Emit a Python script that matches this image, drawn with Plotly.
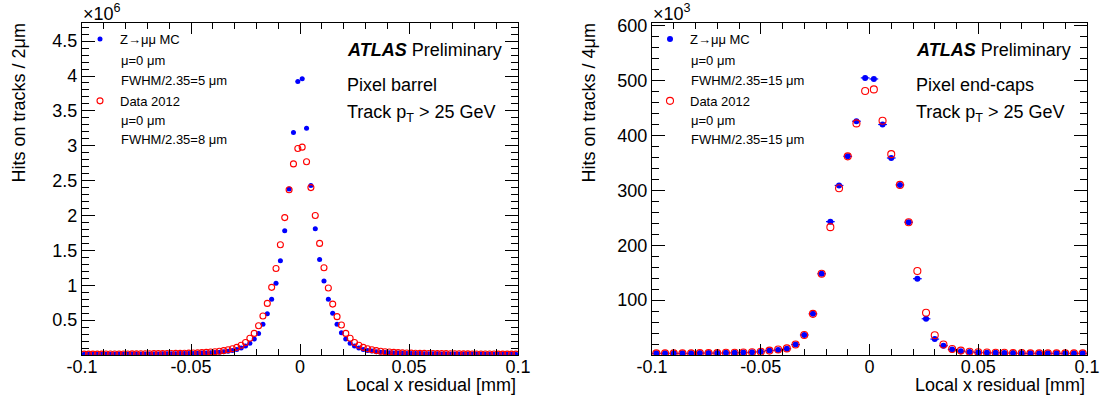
import plotly.graph_objects as go

# ---------------- data ----------------
# Pixel barrel: 2 um bins from -0.1 to 0.1 mm (bin centres)
barrel_x = [round(-0.099 + 0.002 * i, 3) for i in range(100)]
# values in units of 1e6 hits
barrel_mc = [
    0.011, 0.011, 0.011, 0.011, 0.012, 0.012, 0.012, 0.012, 0.013, 0.013,
    0.013, 0.014, 0.014, 0.014, 0.015, 0.015, 0.016, 0.016, 0.017, 0.017,
    0.018, 0.019, 0.020, 0.021, 0.022, 0.023, 0.025, 0.027, 0.029, 0.032,
    0.036, 0.041, 0.047, 0.055, 0.065, 0.08, 0.10, 0.13, 0.17, 0.23,
    0.31, 0.44, 0.59, 0.80, 1.03, 1.35, 1.78, 2.38, 3.19, 3.92,
    3.96, 3.25, 2.43, 1.81, 1.37, 1.06, 0.80, 0.60, 0.44, 0.32,
    0.23, 0.17, 0.13, 0.10, 0.08, 0.066, 0.056, 0.048, 0.041, 0.036,
    0.032, 0.029, 0.027, 0.025, 0.023, 0.022, 0.021, 0.020, 0.019, 0.018,
    0.017, 0.017, 0.016, 0.016, 0.015, 0.015, 0.014, 0.014, 0.014, 0.013,
    0.013, 0.013, 0.012, 0.012, 0.012, 0.012, 0.011, 0.011, 0.011, 0.011,
]
barrel_data = [
    0.012, 0.013, 0.013, 0.013, 0.013, 0.014, 0.014, 0.014, 0.015, 0.015,
    0.015, 0.016, 0.016, 0.017, 0.017, 0.018, 0.019, 0.019, 0.020, 0.021,
    0.022, 0.023, 0.024, 0.025, 0.027, 0.029, 0.031, 0.034, 0.038, 0.042,
    0.047, 0.054, 0.063, 0.075, 0.090, 0.11, 0.14, 0.18, 0.24, 0.31,
    0.42, 0.56, 0.74, 0.97, 1.24, 1.58, 1.97, 2.37, 2.74, 2.96,
    2.98, 2.77, 2.40, 2.00, 1.60, 1.25, 0.96, 0.73, 0.55, 0.43,
    0.31, 0.24, 0.18, 0.14, 0.11, 0.090, 0.075, 0.063, 0.054, 0.047,
    0.042, 0.038, 0.034, 0.031, 0.029, 0.027, 0.025, 0.024, 0.023, 0.022,
    0.021, 0.020, 0.019, 0.019, 0.018, 0.017, 0.017, 0.016, 0.016, 0.015,
    0.015, 0.015, 0.014, 0.014, 0.014, 0.013, 0.013, 0.013, 0.013, 0.012,
]

# Pixel end-caps: 4 um bins, values in units of 1e3 hits
endcap_x = [round(-0.098 + 0.004 * i, 3) for i in range(50)]
endcap_mc = [
    3, 3, 3, 3, 3, 3.5, 3.5, 3.5, 4, 4,
    4.5, 5, 6, 8, 9, 11.5, 19, 36.5, 75, 148,
    243, 309, 362, 426, 505,
    503, 420, 359, 310, 242, 139, 66, 29, 17, 10,
    7, 5.5, 4.5, 4, 4, 3.5, 3.5, 3, 3, 3,
    3, 3, 3, 3, 3,
]
endcap_data = [
    3, 3, 3, 3, 3, 3.5, 3.5, 3.5, 4, 4,
    4.5, 5, 6, 8, 10, 12, 19, 36.5, 75, 148,
    233, 304, 362, 422, 481,
    484, 427, 366, 310, 242, 153, 77, 36, 19, 11,
    8, 6, 5, 4.5, 4, 4, 3.5, 3.5, 3, 3,
    3, 3, 3, 3, 3,
]

barrel_ticks = [0.5, 1, 1.5, 2, 2.5, 3, 3.5, 4, 4.5]
barrel_ticktext = ["0.5", "1", "1.5", "2", "2.5", "3", "3.5", "4", "4.5"]
endcap_ticks = [100, 200, 300, 400, 500, 600]
endcap_ticktext = ["100", "200", "300", "400", "500", "600"]
x_ticks = [-0.1, -0.05, 0, 0.05, 0.1]
x_ticktext = ["-0.1", "-0.05", "0", "0.05", "0.1"]

mc_label = "Z\u2192\u03bc\u03bc MC"
data_label = "Data 2012"
barrel_lines = [["\u03bc=0 \u03bcm", "FWHM/2.35=5 \u03bcm"], ["\u03bc=0 \u03bcm", "FWHM/2.35=8 \u03bcm"]]
endcap_lines = [["\u03bc=0 \u03bcm", "FWHM/2.35=15 \u03bcm"], ["\u03bc=0 \u03bcm", "FWHM/2.35=15 \u03bcm"]]

# ---------------- layout helpers ----------------
W, H = 1101, 401
FONT = "Liberation Sans, Arial, sans-serif"
BLUE = "#0000ff"
RED = "#ff0000"


def px(x):
    return x / W


def py(y):
    return 1 - y / H


fig = go.Figure()

# barrel
fig.add_trace(go.Scatter(
    x=barrel_x, y=barrel_mc, mode="markers", name=mc_label,
    marker=dict(symbol="circle", size=5, color=BLUE),
    error_x=dict(type="constant", value=0.001, width=0, thickness=1, color=BLUE),
    xaxis="x", yaxis="y", legend="legend", legendgroup="mc1"))
fig.add_trace(go.Scatter(
    x=barrel_x, y=barrel_data, mode="markers", name=data_label,
    marker=dict(symbol="circle-open", size=6, color=RED, line=dict(width=1.1, color=RED)),
    xaxis="x", yaxis="y", legend="legend", legendgroup="d1"))
# end-caps
fig.add_trace(go.Scatter(
    x=endcap_x, y=endcap_mc, mode="markers", name=mc_label,
    marker=dict(symbol="circle", size=6, color=BLUE),
    error_x=dict(type="constant", value=0.002, width=0, thickness=1.2, color=BLUE),
    xaxis="x2", yaxis="y2", legend="legend2", legendgroup="mc2"))
fig.add_trace(go.Scatter(
    x=endcap_x, y=endcap_data, mode="markers", name=data_label,
    marker=dict(symbol="circle-open", size=7, color=RED, line=dict(width=1.1, color=RED)),
    xaxis="x2", yaxis="y2", legend="legend2", legendgroup="d2"))

ydom = [py(355), py(23)]
axis_common = dict(showline=True, linecolor="black", linewidth=1.3, mirror="ticks",
                   ticks="inside", tickcolor="black", showgrid=False, zeroline=False,
                   automargin=False,
                   tickfont=dict(family=FONT, size=18, color="black"))

fig.update_layout(
    width=W, height=H, margin=dict(l=0, r=0, t=0, b=0, autoexpand=False),
    paper_bgcolor="white", plot_bgcolor="white",
    font=dict(family=FONT, color="black"),
    showlegend=True,
    xaxis=dict(domain=[px(82), px(518)], range=[-0.1, 0.1], anchor="y",
               tickvals=x_ticks, ticktext=x_ticktext, ticklen=11, tickwidth=1.2,
               ticklabelstandoff=-5,
               minor=dict(tickvals=[round(-0.1 + 0.01 * i, 2) for i in range(21)],
                          ticks="inside", ticklen=6, tickcolor="black", tickwidth=1),
               **axis_common),
    yaxis=dict(domain=ydom, range=[0, 4.76], anchor="x",
               tickvals=barrel_ticks, ticktext=barrel_ticktext, ticklen=13, tickwidth=1.2,
               minor=dict(tickvals=[round(0.1 * i, 1) for i in range(48)],
                          ticks="inside", ticklen=7, tickcolor="black", tickwidth=1),
               **axis_common),
    xaxis2=dict(domain=[px(652), px(1087)], range=[-0.1, 0.1], anchor="y2",
                tickvals=x_ticks, ticktext=x_ticktext, ticklen=11, tickwidth=1.2,
                ticklabelstandoff=-5,
                minor=dict(tickvals=[round(-0.1 + 0.01 * i, 2) for i in range(21)],
                           ticks="inside", ticklen=6, tickcolor="black", tickwidth=1),
                **axis_common),
    yaxis2=dict(domain=ydom, range=[0, 605], anchor="x2",
                tickvals=endcap_ticks, ticktext=endcap_ticktext, ticklen=13, tickwidth=1.2,
                minor=dict(tickvals=[20 * i for i in range(31)],
                           ticks="inside", ticklen=7, tickcolor="black", tickwidth=1),
                **axis_common),
    legend=dict(x=px(80), y=py(24), xanchor="left", yanchor="top",
                bgcolor="rgba(0,0,0,0)", font=dict(family=FONT, size=13),
                traceorder="grouped", tracegroupgap=42, itemwidth=30, valign="top"),
    legend2=dict(x=px(650), y=py(24), xanchor="left", yanchor="top",
                 bgcolor="rgba(0,0,0,0)", font=dict(family=FONT, size=13),
                 traceorder="grouped", tracegroupgap=42, itemwidth=30, valign="top"),
)

ann = []


def text(x, y, s, size, xanchor="left", yanchor="middle", angle=0):
    ann.append(dict(x=px(x), y=py(y), xref="paper", yref="paper", text=s, showarrow=False,
                    xanchor=xanchor, yanchor=yanchor, textangle=angle,
                    font=dict(family=FONT, size=size, color="black")))


# legend sub-lines
for (x0, lines) in [(119, barrel_lines), (689, endcap_lines)]:
    text(x0, 60, lines[0][0], 13)
    text(x0, 80, lines[0][1], 13)
    text(x0, 120, lines[1][0], 13)
    text(x0, 139, lines[1][1], 13)

# exponent labels
text(81, 13, "\u00d710<sup>6</sup>", 18)
text(651, 13, "\u00d710<sup>3</sup>", 18)

# ATLAS labels
for (x0, sub) in [(345, "Pixel barrel"), (914, "Pixel end-caps")]:
    text(x0, 50, "<b><i>ATLAS</i></b> Preliminary", 18)
    text(x0, 85, sub, 18)
    text(x0, 113, "Track p<sub>T</sub> > 25 GeV", 18)

# axis titles
text(18, 22, "Hits on tracks / 2\u03bcm", 18, xanchor="center", yanchor="top", angle=-90)
text(588, 22, "Hits on tracks / 4\u03bcm", 18, xanchor="center", yanchor="top", angle=-90)
text(518, 385, "Local x residual [mm]", 18, xanchor="right")
text(1087, 385, "Local x residual [mm]", 18, xanchor="right")

fig.update_layout(annotations=ann)
fig.write_html("out.html")
